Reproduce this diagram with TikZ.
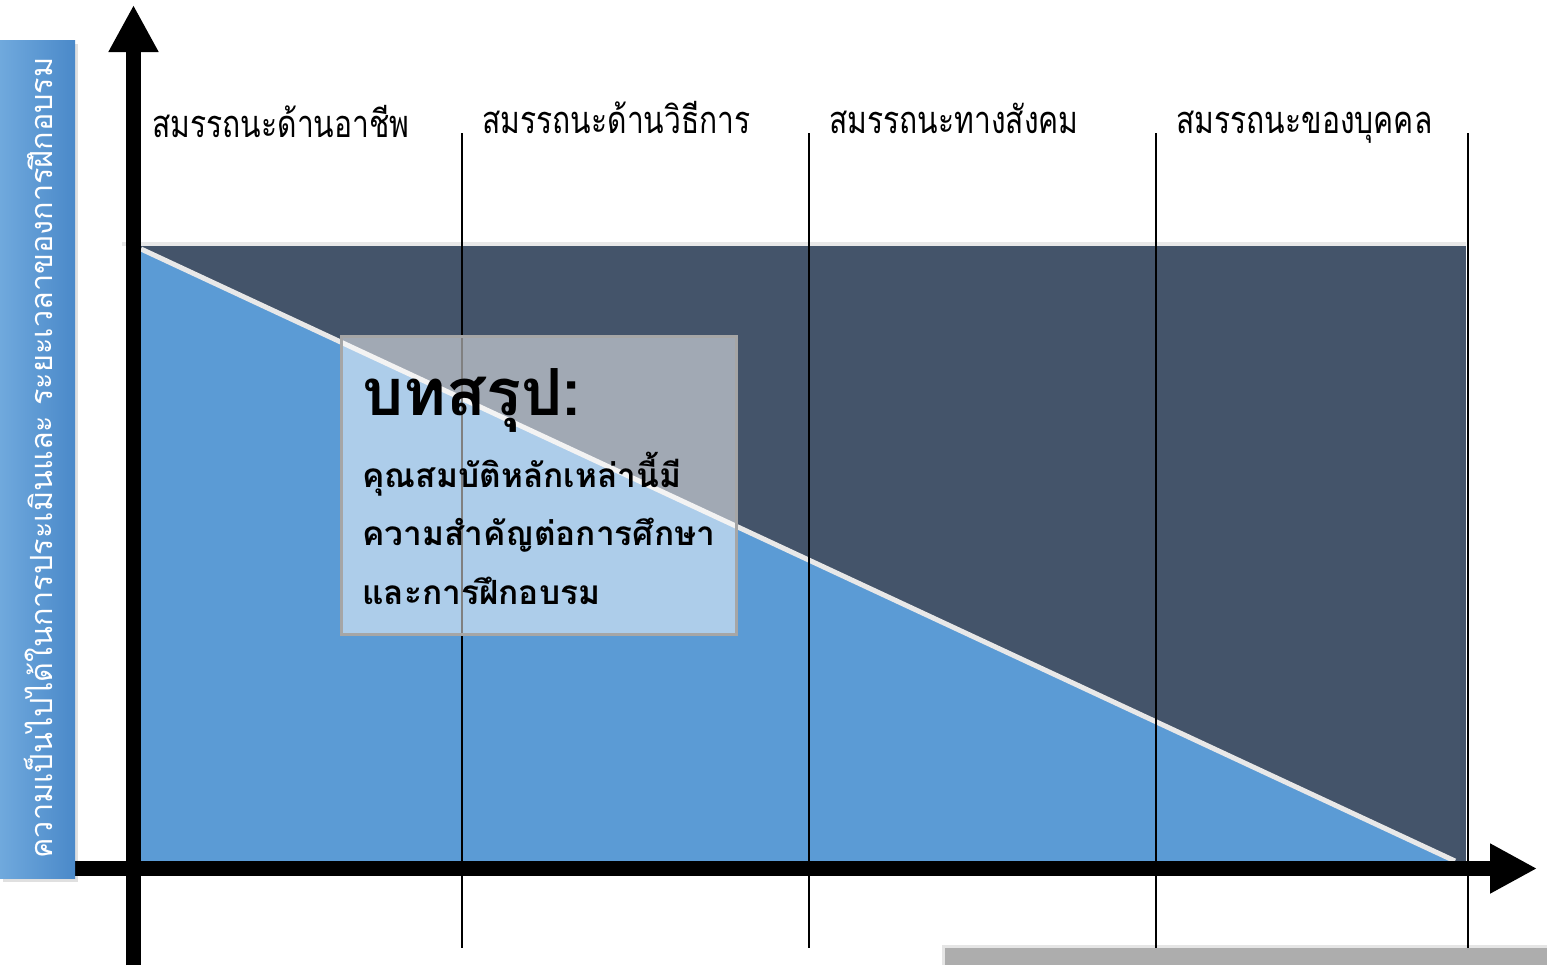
\documentclass[tikz,border=0pt]{standalone}
\usepackage{fontspec}
\usepackage{graphicx}
\newfontfamily\thai[Script=Thai]{Loma}
\usetikzlibrary{arrows.meta,shadows}
\definecolor{darkslate}{HTML}{44546A}
\definecolor{midblue}{HTML}{5B9BD5}
\definecolor{lightblue}{HTML}{70A9DD}
\definecolor{deepblue}{HTML}{4A89C9}
\definecolor{sepgray}{HTML}{E8E8E8}
\definecolor{boxgray}{HTML}{A6A6A6}
\definecolor{bargray}{HTML}{ADADAD}
\newcommand{\narrow}[1]{\scalebox{0.79}[1]{#1}}
\tikzset{
  axisline/.style={line width=7.5pt, -{Triangle[length=23.5pt,width=23.5pt]}},
  divider/.style={line width=1pt, black},
  hdr/.style={anchor=base west, inner sep=0pt, font=\thai\fontsize{19}{22}\selectfont},
  boxline/.style={anchor=base west, inner sep=0pt, font=\thai\bfseries\fontsize{16.7}{20}\selectfont},
  boxtitle/.style={anchor=base west, inner sep=0pt, font=\thai\bfseries\fontsize{32.5}{36}\selectfont},
}
\begin{document}
\begin{tikzpicture}[x=0.5pt,y=-0.5pt]
\useasboundingbox (0,0) rectangle (1547,965);
% regions
\fill[darkslate] (141,246) rectangle (1466,861);
\draw[sepgray, line width=2pt] (122,244) -- (1466,244);
\fill[midblue] (141,249) -- (141,861) -- (1455,861) -- cycle;
\coordinate (dtop) at (141,249);
\coordinate (dbot) at (1455,861);
\draw[sepgray, line width=2.5pt] (dtop) -- (dbot);
% dividers
\foreach \x/\n in {462/a,809/b,1156/c,1468/d}{
  \coordinate (t\n) at (\x,133);
  \coordinate (b\n) at (\x,948);
  \draw[divider] (t\n) -- (b\n);
}
% headers
\node[hdr] (h1) at (152,137) {\narrow{สมรรถนะด้านอาชีพ}};
\node[hdr] (h2) at (482,133) {\narrow{สมรรถนะด้านวิธีการ}};
\node[hdr] (h3) at (829,133) {\narrow{สมรรถนะทางสังคม}};
\node[hdr] (h4) at (1176,133) {\narrow{สมรรถนะของบุคคล}};
% axes
\coordinate (ystart) at (133.5,965);
\coordinate (yend) at (133.5,5);
\coordinate (xstart) at (60,868.5);
\coordinate (xend) at (1537,868.5);
\draw[axisline] (ystart) -- (yend);
\draw[axisline] (xstart) -- (xend);
% summary box
\node[draw=boxgray, line width=1.5pt, fill=white, fill opacity=0.5, minimum width=197.5pt, minimum height=149pt, inner sep=0pt] (sumbox) at (538.5,485) {};
\node[boxtitle] (title) at (362,415) {บทสรุป:};
\node[boxline] (l1) at (362,487) {คุณสมบัติหลักเหล่านี้มี};
\node[boxline] (l2) at (362,545) {ความสำคัญต่อการศึกษา};
\node[boxline] (l3) at (362,604) {และการฝึกอบรม};
% left label
\fill[black, opacity=0.12] (3,44) rectangle (78,882);
\shade[left color=lightblue, right color=deepblue] (0,40) rectangle (75,878);
\node[rotate=90, text=white, font=\thai\fontsize{15.3}{18}\selectfont, inner sep=0pt] (ylab) at (38,458) {ความเป็นไปได้ในการประเมินและ ระยะเวลาของการฝึกอบรม};
% bottom bar
\fill[black, opacity=0.1] (942,945) rectangle (1547,965);
\fill[bargray] (945,948) rectangle (1547,965);
\end{tikzpicture}
\end{document}
